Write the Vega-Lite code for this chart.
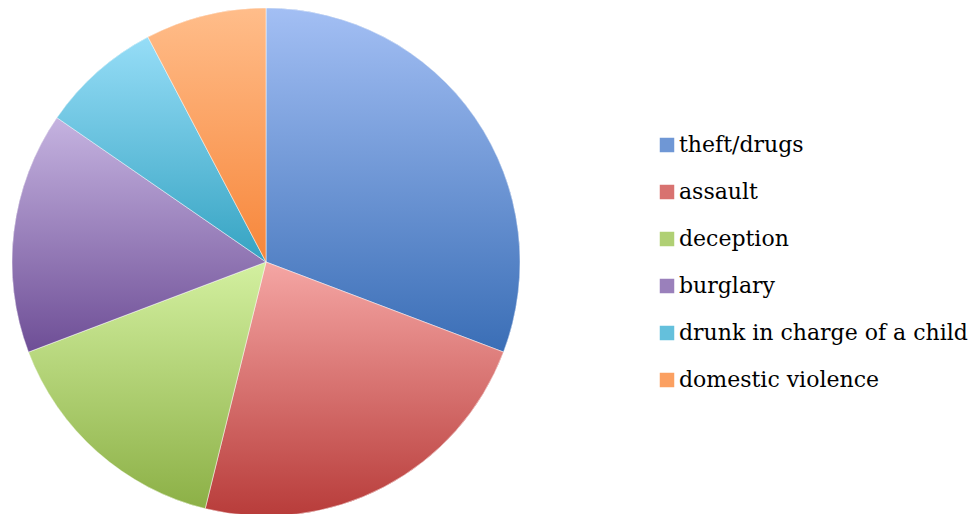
{
  "$schema": "https://vega.github.io/schema/vega-lite/v6.json",
  "width": 532,
  "height": 524,
  "padding": {"left": 0, "top": 0, "right": 440, "bottom": 0},
  "autosize": "none",
  "background": "white",
  "view": {"stroke": null},
  "data": {"values": [
    {"idx": 1, "category": "theft/drugs", "value": 4},
    {"idx": 2, "category": "assault", "value": 3},
    {"idx": 3, "category": "deception", "value": 2},
    {"idx": 4, "category": "burglary", "value": 2},
    {"idx": 5, "category": "drunk in charge of a child", "value": 1},
    {"idx": 6, "category": "domestic violence", "value": 1}
  ]},
  "layer": [
    {
      "mark": {"type": "arc", "outerRadius": 254},
      "encoding": {
        "theta": {"field": "value", "type": "quantitative", "stack": true},
        "order": {"field": "idx", "type": "quantitative"},
        "color": {
          "field": "category",
          "type": "nominal",
          "sort": null,
          "scale": {
            "domain": ["theft/drugs", "assault", "deception", "burglary", "drunk in charge of a child", "domestic violence"],
            "range": ["#6f97d5", "#d87270", "#b0d074", "#9a80bb", "#64c0dc", "#fba061"]
          },
          "legend": {
            "title": null,
            "orient": "none",
            "legendX": 656,
            "legendY": 134,
            "symbolType": "square",
            "symbolSize": 210,
            "symbolStrokeWidth": 0,
            "symbolOpacity": 1,
            "rowPadding": 25,
            "labelFont": "DejaVu Serif",
            "labelFontSize": 22,
            "labelColor": "black",
            "labelLimit": 400,
            "labelOffset": 1
          }
        }
      }
    },
    {
      "mark": {
        "type": "arc",
        "outerRadius": 254,
        "stroke": "white",
        "strokeWidth": 0.5,
        "fill": {"expr": "datum.category === 'theft/drugs' ? {gradient:'linear',x1:0,y1:0,x2:0,y2:1,stops:[{offset:0,color:'#a3bff4'},{offset:1,color:'#3a6eb6'}]} : datum.category === 'assault' ? {gradient:'linear',x1:0,y1:0,x2:0,y2:1,stops:[{offset:0,color:'#f5a6a4'},{offset:1,color:'#b83c3a'}]} : datum.category === 'deception' ? {gradient:'linear',x1:0,y1:0,x2:0,y2:1,stops:[{offset:0,color:'#d3f0a0'},{offset:1,color:'#8cb046'}]} : datum.category === 'burglary' ? {gradient:'linear',x1:0,y1:0,x2:0,y2:1,stops:[{offset:0,color:'#c5b3e0'},{offset:1,color:'#6e4e96'}]} : datum.category === 'drunk in charge of a child' ? {gradient:'linear',x1:0,y1:0,x2:0,y2:1,stops:[{offset:0,color:'#96ddf7'},{offset:1,color:'#35a3c2'}]} : {gradient:'linear',x1:0,y1:0,x2:0,y2:1,stops:[{offset:0,color:'#ffbd8a'},{offset:1,color:'#f7863a'}]}"}
      },
      "encoding": {
        "theta": {"field": "value", "type": "quantitative", "stack": true},
        "order": {"field": "idx", "type": "quantitative"}
      }
    }
  ]
}
